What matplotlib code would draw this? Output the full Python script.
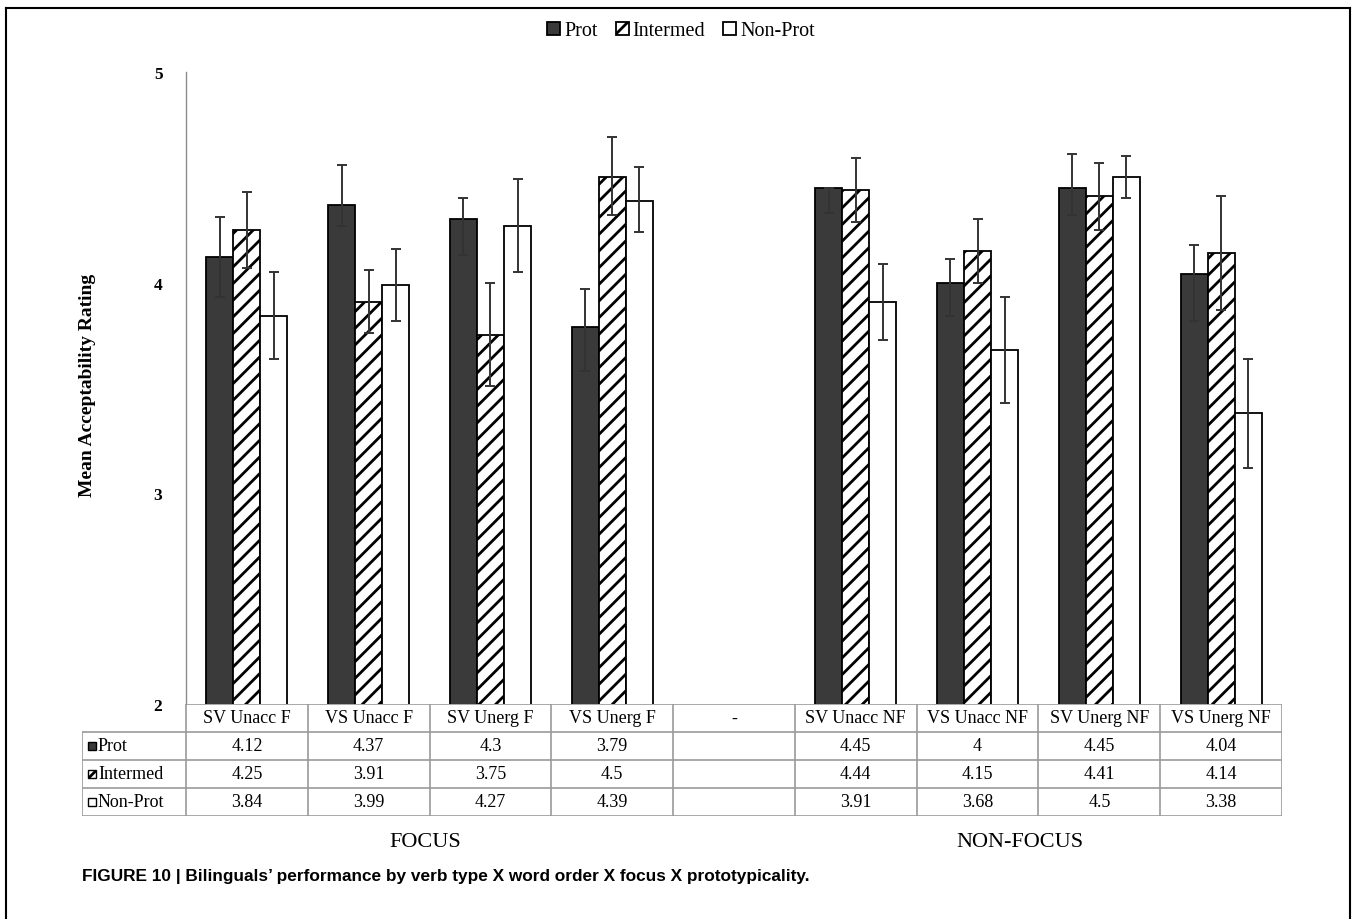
import numpy as np
import matplotlib
matplotlib.use("Agg")
import matplotlib.pyplot as plt
from matplotlib.patches import Rectangle
from matplotlib.lines import Line2D

# ---------------- data ----------------
categories = ["SV Unacc F", "VS Unacc F", "SV Unerg F", "VS Unerg F", "-",
              "SV Unacc NF", "VS Unacc NF", "SV Unerg NF", "VS Unerg NF"]
series = ["Prot", "Intermed", "Non-Prot"]
prot = [4.12, 4.37, 4.3, 3.79, None, 4.45, 4, 4.45, 4.04]
intermed = [4.25, 3.91, 3.75, 4.5, None, 4.44, 4.15, 4.41, 4.14]
nonprot = [3.84, 3.99, 4.27, 4.39, None, 3.91, 3.68, 4.5, 3.38]
# error bars (lower, upper)
prot_lo = [0.19, 0.10, 0.17, 0.21, None, 0.12, 0.16, 0.13, 0.22]
prot_hi = [0.19, 0.19, 0.10, 0.18, None, 0.00, 0.11, 0.16, 0.14]
intermed_lo = [0.18, 0.15, 0.24, 0.18, None, 0.15, 0.15, 0.16, 0.27]
intermed_hi = [0.18, 0.15, 0.25, 0.19, None, 0.15, 0.15, 0.16, 0.27]
nonprot_lo = [0.20, 0.17, 0.22, 0.15, None, 0.18, 0.25, 0.10, 0.26]
nonprot_hi = [0.21, 0.17, 0.22, 0.16, None, 0.18, 0.25, 0.10, 0.26]
yticks = [2, 3, 4, 5]
group_labels = ["FOCUS", "NON-FOCUS"]
ylabel = "Mean Acceptability Rating"
caption = "FIGURE 10 | Bilinguals\u2019 performance by verb type X word order X focus X prototypicality."

# ---------------- style ----------------
SERIF = ["Liberation Serif", "DejaVu Serif"]
SANS = ["Liberation Sans", "DejaVu Sans"]
plt.rcParams["hatch.linewidth"] = 2.0
W, H = 1357, 920
fig = plt.figure(figsize=(W / 100, H / 100), dpi=100)
fig.patch.set_facecolor("white")

def fx(px):
    return px / W

def fy(py):
    return 1 - py / H

x_left, x_right = 186, 1282
y_top, y_bot = 73, 705
ax = fig.add_axes([fx(x_left), fy(y_bot), fx(x_right) - fx(x_left), fy(y_top) - fy(y_bot)])

n = len(categories)
x = np.arange(n) + 0.5
bw = 1 / 4.5
styles = [dict(color="#3a3a3a", edgecolor="black", hatch=None),
          dict(color="white", edgecolor="black", hatch="//"),
          dict(color="white", edgecolor="black", hatch=None)]
data = [prot, intermed, nonprot]
los = [prot_lo, intermed_lo, nonprot_lo]
his = [prot_hi, intermed_hi, nonprot_hi]
handles = []
for i, (vals, lo, hi, st) in enumerate(zip(data, los, his, styles)):
    idx = [k for k, v in enumerate(vals) if v is not None]
    xs = x[idx] + (i - 1) * bw
    vs = np.array([vals[k] for k in idx])
    b = ax.bar(xs, vs, width=bw, color=st["color"], edgecolor=st["edgecolor"],
               hatch=st["hatch"], linewidth=1.3, zorder=2, label=series[i])
    handles.append(b)
    ax.errorbar(xs, vs, yerr=[[lo[k] for k in idx], [hi[k] for k in idx]],
                fmt="none", ecolor="#333333", elinewidth=1.4, capsize=3.5,
                capthick=1.4, zorder=3)

ax.set_xlim(0, n)
ax.set_ylim(yticks[0], yticks[-1])
ax.set_yticks(yticks)
ax.set_yticklabels([str(t) for t in yticks], family=SERIF, fontsize=12.5, fontweight="bold")
ax.tick_params(axis="y", length=0, pad=17)
ax.set_xticks([])
for s in ["top", "right", "bottom"]:
    ax.spines[s].set_visible(False)
ax.spines["left"].set_color("#8c8c8c")
ax.spines["left"].set_linewidth(1.0)

fig.text(fx(88), fy(385), ylabel, rotation=90, ha="center", va="center",
         family=SERIF, fontsize=14, fontweight="bold")

# ---------------- legend ----------------
leg = fig.legend(handles=handles, labels=series, loc="center", bbox_to_anchor=(fx(681), fy(32)),
                 ncol=3, frameon=False, handlelength=0.65, handleheight=0.65,
                 handletextpad=0.2, columnspacing=0.9,
                 prop={"family": SERIF, "size": 14.5})

# ---------------- data table ----------------
t_left, t_right = 82, 1282
row_h = 28
t_top = y_bot
t_bot = y_bot + 4 * row_h
cat_w = (x_right - x_left) / n
tax = fig.add_axes([fx(t_left), fy(t_bot), fx(t_right) - fx(t_left), fy(t_top) - fy(t_bot)])
tax.set_xlim(-(x_left - t_left) / cat_w, n)
tax.set_ylim(4, 0)
tax.axis("off")
lc = "#9a9a9a"
x0 = tax.get_xlim()[0]
tax.plot([0, n], [0, 0], color=lc, lw=1.2)
for r in [1, 2, 3, 4]:
    tax.plot([x0, n], [r, r], color=lc, lw=1.2)
tax.plot([x0] * 2, [1, 4], color=lc, lw=1.2)
for c in range(n + 1):
    tax.plot([c, c], [0, 4], color=lc, lw=1.2)

for c, cat in enumerate(categories):
    tax.text(c + 0.5, 0.5, cat, ha="center", va="center", family=SERIF, fontsize=13)
for r, vals in enumerate(data):
    for c, v in enumerate(vals):
        if v is not None:
            tax.text(c + 0.5, r + 1.5, f"{v:g}", ha="center", va="center",
                     family=SERIF, fontsize=13)

sq_w = 8 / cat_w
for r, (name, st) in enumerate(zip(series, styles)):
    tax.add_patch(Rectangle((x0 + 6 / cat_w, r + 1.5 - 0.16), sq_w, 0.32,
                            facecolor=st["color"], edgecolor="black",
                            hatch=st["hatch"], lw=1.0, clip_on=False))
    tax.text(x0 + 16 / cat_w, r + 1.5, name, ha="left", va="center",
             family=SERIF, fontsize=13)

# group labels
fig.text(fx(425), fy(843), group_labels[0], ha="center", va="center", family=SERIF, fontsize=16)
fig.text(fx(1020), fy(843), group_labels[1], ha="center", va="center", family=SERIF, fontsize=16)

# caption
fig.text(fx(82), fy(876), caption, ha="left", va="center", family=SANS,
         fontsize=12.4, fontweight="bold")

# outer frame
fig.add_artist(Line2D([fx(6), fx(1350)], [fy(9), fy(9)], color="black", lw=1.5))
fig.add_artist(Line2D([fx(6), fx(6)], [fy(9), 0], color="black", lw=1.5))
fig.add_artist(Line2D([fx(1350), fx(1350)], [fy(9), 0], color="black", lw=1.5))

fig.savefig("out.png", dpi=100, facecolor="white")
